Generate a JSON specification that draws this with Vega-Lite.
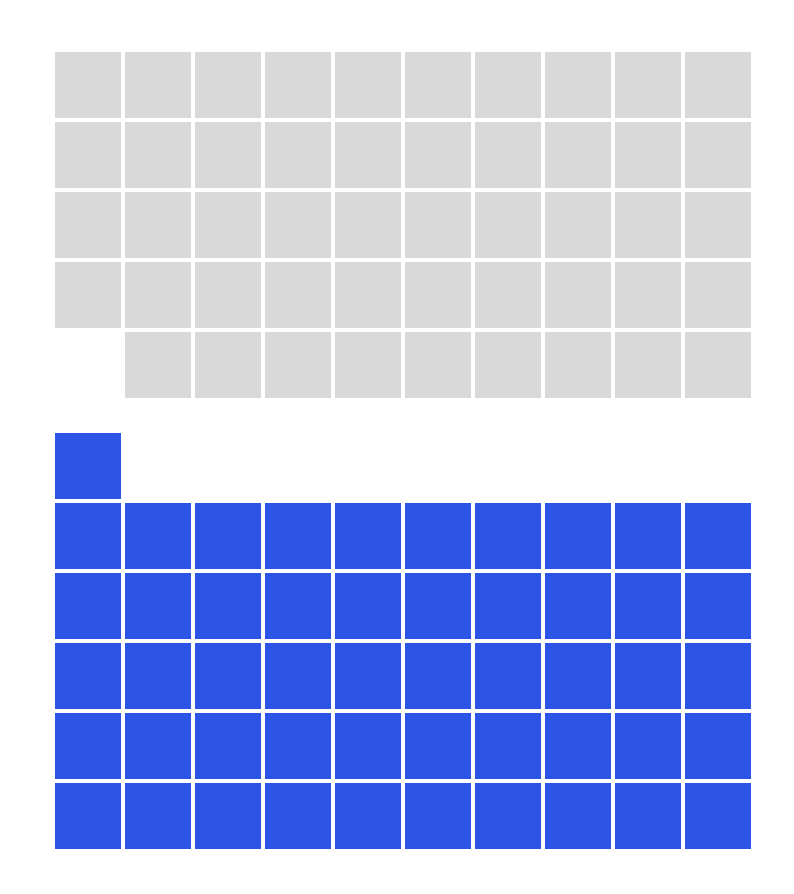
{
  "$schema": "https://vega.github.io/schema/vega-lite/v6.json",
  "padding": {"left": 55, "top": 52, "right": 0, "bottom": 0},
  "background": "white",
  "config": {"view": {"stroke": null}, "concat": {"spacing": 34}},
  "data": {"values": [
    {"g":"grey","r":0,"c":0},{"g":"grey","r":0,"c":1},{"g":"grey","r":0,"c":2},{"g":"grey","r":0,"c":3},{"g":"grey","r":0,"c":4},{"g":"grey","r":0,"c":5},{"g":"grey","r":0,"c":6},{"g":"grey","r":0,"c":7},{"g":"grey","r":0,"c":8},{"g":"grey","r":0,"c":9},
    {"g":"grey","r":1,"c":0},{"g":"grey","r":1,"c":1},{"g":"grey","r":1,"c":2},{"g":"grey","r":1,"c":3},{"g":"grey","r":1,"c":4},{"g":"grey","r":1,"c":5},{"g":"grey","r":1,"c":6},{"g":"grey","r":1,"c":7},{"g":"grey","r":1,"c":8},{"g":"grey","r":1,"c":9},
    {"g":"grey","r":2,"c":0},{"g":"grey","r":2,"c":1},{"g":"grey","r":2,"c":2},{"g":"grey","r":2,"c":3},{"g":"grey","r":2,"c":4},{"g":"grey","r":2,"c":5},{"g":"grey","r":2,"c":6},{"g":"grey","r":2,"c":7},{"g":"grey","r":2,"c":8},{"g":"grey","r":2,"c":9},
    {"g":"grey","r":3,"c":0},{"g":"grey","r":3,"c":1},{"g":"grey","r":3,"c":2},{"g":"grey","r":3,"c":3},{"g":"grey","r":3,"c":4},{"g":"grey","r":3,"c":5},{"g":"grey","r":3,"c":6},{"g":"grey","r":3,"c":7},{"g":"grey","r":3,"c":8},{"g":"grey","r":3,"c":9},
    {"g":"grey","r":4,"c":1},{"g":"grey","r":4,"c":2},{"g":"grey","r":4,"c":3},{"g":"grey","r":4,"c":4},{"g":"grey","r":4,"c":5},{"g":"grey","r":4,"c":6},{"g":"grey","r":4,"c":7},{"g":"grey","r":4,"c":8},{"g":"grey","r":4,"c":9},
    {"g":"blue","r":0,"c":0},
    {"g":"blue","r":1,"c":0},{"g":"blue","r":1,"c":1},{"g":"blue","r":1,"c":2},{"g":"blue","r":1,"c":3},{"g":"blue","r":1,"c":4},{"g":"blue","r":1,"c":5},{"g":"blue","r":1,"c":6},{"g":"blue","r":1,"c":7},{"g":"blue","r":1,"c":8},{"g":"blue","r":1,"c":9},
    {"g":"blue","r":2,"c":0},{"g":"blue","r":2,"c":1},{"g":"blue","r":2,"c":2},{"g":"blue","r":2,"c":3},{"g":"blue","r":2,"c":4},{"g":"blue","r":2,"c":5},{"g":"blue","r":2,"c":6},{"g":"blue","r":2,"c":7},{"g":"blue","r":2,"c":8},{"g":"blue","r":2,"c":9},
    {"g":"blue","r":3,"c":0},{"g":"blue","r":3,"c":1},{"g":"blue","r":3,"c":2},{"g":"blue","r":3,"c":3},{"g":"blue","r":3,"c":4},{"g":"blue","r":3,"c":5},{"g":"blue","r":3,"c":6},{"g":"blue","r":3,"c":7},{"g":"blue","r":3,"c":8},{"g":"blue","r":3,"c":9},
    {"g":"blue","r":4,"c":0},{"g":"blue","r":4,"c":1},{"g":"blue","r":4,"c":2},{"g":"blue","r":4,"c":3},{"g":"blue","r":4,"c":4},{"g":"blue","r":4,"c":5},{"g":"blue","r":4,"c":6},{"g":"blue","r":4,"c":7},{"g":"blue","r":4,"c":8},{"g":"blue","r":4,"c":9},
    {"g":"blue","r":5,"c":0},{"g":"blue","r":5,"c":1},{"g":"blue","r":5,"c":2},{"g":"blue","r":5,"c":3},{"g":"blue","r":5,"c":4},{"g":"blue","r":5,"c":5},{"g":"blue","r":5,"c":6},{"g":"blue","r":5,"c":7},{"g":"blue","r":5,"c":8},{"g":"blue","r":5,"c":9}
  ]},
  "vconcat": [
    {
      "width": 696,
      "height": 346,
      "transform": [{"filter": "datum.g === 'grey'"}],
      "mark": {"type": "rect", "color": "#d9d9d9"},
      "encoding": {
        "x": {"field": "c", "type": "ordinal", "axis": null, "scale": {"domain": [0,1,2,3,4,5,6,7,8,9], "paddingInner": 0.0571, "paddingOuter": 0}},
        "y": {"field": "r", "type": "ordinal", "axis": null, "scale": {"domain": [0,1,2,3,4], "paddingInner": 0.0571, "paddingOuter": 0}}
      }
    },
    {
      "width": 696,
      "height": 416,
      "transform": [{"filter": "datum.g === 'blue'"}],
      "mark": {"type": "rect", "color": "#2c55e6"},
      "encoding": {
        "x": {"field": "c", "type": "ordinal", "axis": null, "scale": {"domain": [0,1,2,3,4,5,6,7,8,9], "paddingInner": 0.0571, "paddingOuter": 0}},
        "y": {"field": "r", "type": "ordinal", "axis": null, "scale": {"domain": [0,1,2,3,4,5], "paddingInner": 0.0571, "paddingOuter": 0}}
      }
    }
  ]
}
